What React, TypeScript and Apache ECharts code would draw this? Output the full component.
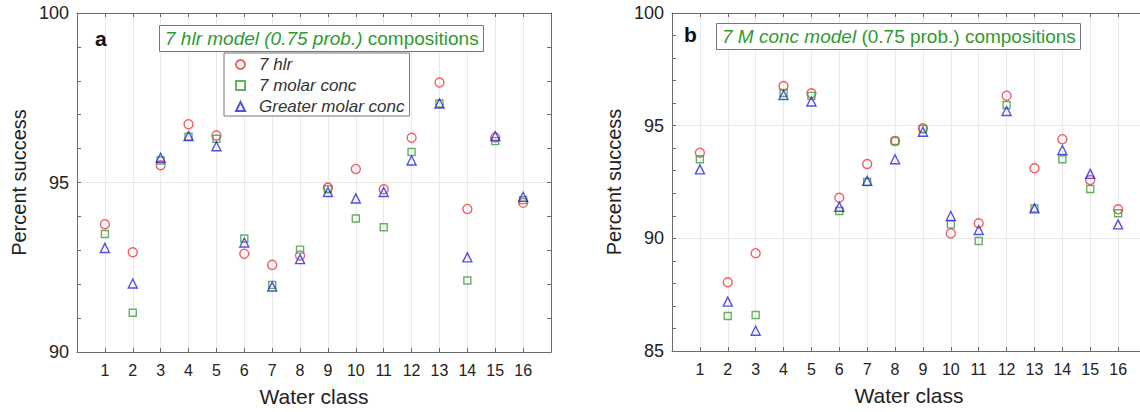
import React, { useEffect, useRef } from "react";
import * as echarts from "echarts";

// Water classes on the x axis
const classes = [1, 2, 3, 4, 5, 6, 7, 8, 9, 10, 11, 12, 13, 14, 15, 16];

// Panel a: 7 hlr model (0.75 prob.) compositions
const hlrA = [93.77, 92.94, 95.51, 96.72, 96.39, 92.9, 92.57, 92.85, 94.85, 95.4, 94.8, 96.32, 97.95, 94.22, 96.33, 94.4];
const molarA = [93.48, 91.16, 95.65, 96.35, 96.29, 93.35, 91.98, 93.02, 94.8, 93.94, 93.68, 95.9, 97.33, 92.11, 96.22, 94.48];
const greaterA = [93.07, 92.02, 95.73, 96.37, 96.07, 93.23, 91.93, 92.74, 94.72, 94.53, 94.72, 95.65, 97.33, 92.79, 96.37, 94.58];

// Panel b: 7 M conc model (0.75 prob.) compositions
const hlrB = [93.8, 88.05, 89.34, 96.76, 96.44, 91.8, 93.3, 94.32, 94.88, 90.22, 90.67, 96.33, 93.11, 94.4, 92.59, 91.29];
const molarB = [93.51, 86.55, 86.6, 96.45, 96.32, 91.21, 92.5, 94.32, 94.85, 90.62, 89.88, 95.92, 91.33, 93.51, 92.19, 91.11];
const greaterB = [93.06, 87.19, 85.9, 96.36, 96.07, 91.4, 92.55, 93.51, 94.73, 90.99, 90.37, 95.65, 91.33, 93.92, 92.86, 90.62];

const seriesNames = ["7 hlr", "7 molar conc", "Greater molar conc"];
const yRangeA = [90, 100];
const yRangeB = [85, 100];
const xRange = [0, 17];

const FONT = "'Liberation Sans', Arial, Helvetica, sans-serif";
const RED = "#f0343c";
const GREEN = "#3c9e3c";
const BLUE = "#2626e0";
const TITLE_GREEN = "#2f9a2f";
const AXIS = "#6a6a6a";
const GRID = "#e9e9e9";

const toPoints = (vals: number[]) => classes.map((c, i) => [c, vals[i]]);

function xAxes(gridIndex: number) {
  const base = {
    gridIndex,
    type: "value",
    min: xRange[0],
    max: xRange[1],
    interval: 1,
    axisLine: { show: true, onZero: false, lineStyle: { color: AXIS, width: 1 } },
    axisTick: { show: true, inside: true, length: 4, lineStyle: { color: AXIS } },
  };
  return [
    {
      ...base,
      position: "bottom",
      name: "Water class",
      nameLocation: "middle",
      nameGap: 34,
      nameTextStyle: { fontFamily: FONT, fontSize: 21, color: "#222" },
      axisLabel: {
        fontFamily: FONT,
        fontSize: 16,
        color: "#222",
        margin: 10,
        formatter: (v: number) => (v >= 1 && v <= 16 ? String(v) : ""),
      },
      splitLine: { show: true, showMinLine: false, showMaxLine: false, lineStyle: { color: GRID, width: 1 } },
    },
    {
      ...base,
      position: "top",
      axisLabel: { show: false },
      splitLine: { show: false },
    },
  ];
}

function yAxes(gridIndex: number, range: number[], rightFrame: boolean) {
  const base = {
    gridIndex,
    type: "value",
    min: range[0],
    max: range[1],
    interval: 5,
    axisLine: { show: true, onZero: false, lineStyle: { color: AXIS, width: 1 } },
    axisTick: { show: true, inside: true, length: 4, lineStyle: { color: AXIS } },
    minorTick: { show: true, splitNumber: 5, length: 4, lineStyle: { color: AXIS } },
  };
  return [
    {
      ...base,
      position: "left",
      name: "Percent success",
      nameLocation: "middle",
      nameGap: 48,
      nameTextStyle: { fontFamily: FONT, fontSize: 20, color: "#222" },
      axisLabel: { fontFamily: FONT, fontSize: 18, color: "#222", margin: 8 },
      splitLine: { show: true, lineStyle: { color: GRID, width: 1 } },
    },
    {
      ...base,
      show: rightFrame,
      position: "right",
      axisLabel: { show: false },
      splitLine: { show: false },
    },
  ];
}

function scatter(name: string, vals: number[], axisIdx: number, symbol: string, size: number, color: string) {
  return {
    name,
    type: "scatter",
    xAxisIndex: axisIdx * 2,
    yAxisIndex: axisIdx * 2,
    symbol,
    symbolSize: size,
    itemStyle: { color: "rgba(255,255,255,0)", borderColor: color, borderWidth: 1.4 },
    data: toPoints(vals),
    z: 3,
  };
}

function titleBox(left: number, top: number, italicPart: string, normalPart: string) {
  const common = { fontFamily: FONT, fontSize: 19, fontWeight: "normal", color: TITLE_GREEN, lineHeight: 20 };
  return {
    left,
    top,
    text: `{i|${italicPart}}{n|${normalPart}}`,
    backgroundColor: "#ffffff",
    borderColor: "#777",
    borderWidth: 1,
    padding: [3, 5, 4, 6],
    textStyle: {
      fontWeight: "normal",
      rich: {
        i: { ...common, fontStyle: "italic" },
        n: { ...common },
      },
    },
    z: 10,
  };
}

export default function App() {
  const ref = useRef<HTMLDivElement>(null);

  useEffect(() => {
    if (!ref.current) return;
    const chart = echarts.init(ref.current, undefined, { renderer: "svg" });
    chart.setOption({
      animation: false,
      backgroundColor: "#ffffff",
      grid: [
        { left: 77, top: 13, width: 474, height: 339 },
        { left: 672, top: 13, width: 474, height: 338 },
      ],
      xAxis: [...xAxes(0), ...xAxes(1)],
      yAxis: [...yAxes(0, yRangeA, true), ...yAxes(1, yRangeB, false)],
      title: [
        titleBox(159, 25, "7 hlr model (0.75 prob.)", " compositions"),
        titleBox(716, 23, "7 M conc model", " (0.75 prob.) compositions"),
        {
          left: 95,
          top: 28,
          text: "a",
          padding: 0,
          textStyle: { fontFamily: FONT, fontSize: 21, fontWeight: "bold", color: "#111" },
        },
        {
          left: 684,
          top: 24,
          text: "b",
          padding: 0,
          textStyle: { fontFamily: FONT, fontSize: 21, fontWeight: "bold", color: "#111" },
        },
      ],
      legend: {
        left: 224,
        top: 53,
        orient: "vertical",
        data: [
          { name: seriesNames[0], icon: "circle" },
          { name: seriesNames[1], icon: "rect" },
          { name: seriesNames[2], icon: "triangle" },
        ],
        backgroundColor: "#ffffff",
        borderColor: "#777",
        borderWidth: 1,
        padding: [3, 5, 1, 11],
        itemGap: 4,
        itemWidth: 9,
        itemHeight: 9,
        selectedMode: false,
        textStyle: {
          fontFamily: FONT,
          fontSize: 17,
          fontStyle: "italic",
          color: "#333",
          lineHeight: 16,
          padding: [0, 0, 0, 9],
        },
        z: 10,
      },
      series: [
        scatter(seriesNames[0], hlrA, 0, "circle", 9, RED),
        scatter(seriesNames[1], molarA, 0, "rect", 7, GREEN),
        scatter(seriesNames[2], greaterA, 0, "triangle", 9, BLUE),
        scatter(seriesNames[0], hlrB, 1, "circle", 9, RED),
        scatter(seriesNames[1], molarB, 1, "rect", 7, GREEN),
        scatter(seriesNames[2], greaterB, 1, "triangle", 9, BLUE),
      ],
    });
    return () => chart.dispose();
  }, []);

  // Panel b continues past the right edge of the figure; the chart canvas is
  // wider than the visible area and clipped.
  return (
    <div style={{ position: "fixed", left: 0, top: 0, width: 1140, height: 412, overflow: "hidden", background: "#fff" }}>
      <div ref={ref} style={{ width: 1160, height: 412 }} />
    </div>
  );
}
